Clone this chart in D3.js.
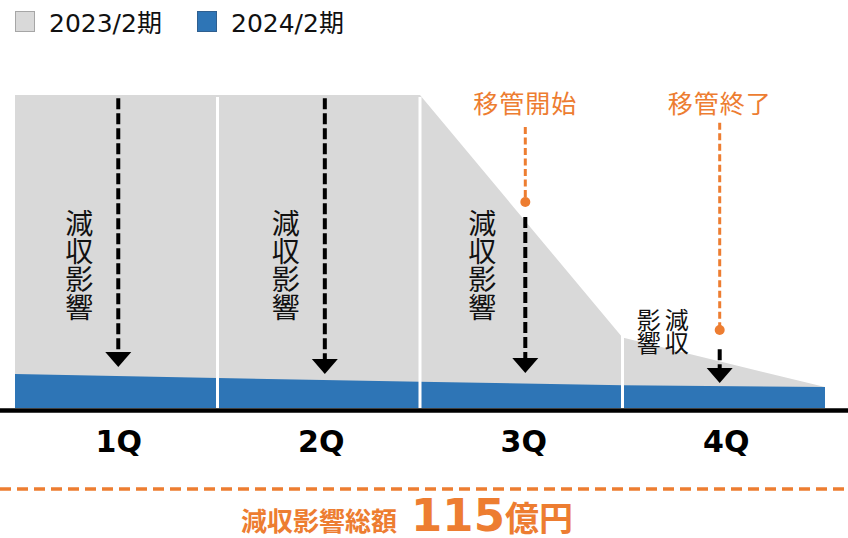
<!DOCTYPE html>
<html>
<head>
<meta charset="utf-8">
<script src="https://cdn.jsdelivr.net/npm/d3@7/dist/d3.min.js"></script>
<style>
  html, body { margin: 0; padding: 0; background: #fff; }
  svg { display: block; }
</style>
</head>
<body>
<svg id="chart" width="848" height="538"></svg>
<script>
// ---- data ----
const quarters = ["1Q", "2Q", "3Q", "4Q"];
const boundaries = [0, 1, 2, 3, 4];                 // quarter boundaries
const prevSeries = [100, 100, 100, 22.5, 6.7];      // 2023/2期
const currSeries = [10.9, 9.6, 8.4, 7.3, 6.7];      // 2024/2期
const seriesNames = ["2023/2期", "2024/2期"];
const arrowAt = [0.51, 1.53, 2.52, 3.48];
const arrowFrom = [99, 99, 61, 18.8];
const arrowTo = [13.1, 10.9, 11.2, 8.0];
const impactText = "減収影響";
const eventLabels = ["移管開始", "移管終了"];
const eventAt = [2.52, 3.48];
const eventTop = [89.8, 91.1];
const eventDot = [65.8, 24.9];
const totalLabel = "減収影響総額";
const totalValue = "115";
const totalUnit = "億円";

// ---- setup ----
const W = 848, H = 538;
const svg = d3.select("#chart");
const GRAY = "#D9D9D9", BLUE = "#2E75B6", ORANGE = "#ED7D31";
const CJK = "'Noto Sans CJK JP', sans-serif";
const LAT = "'DejaVu Sans', 'Noto Sans CJK JP', sans-serif";

const x = d3.scaleLinear().domain([0, 4]).range([15, 825]);
const y = d3.scaleLinear().domain([0, 100]).range([408, 95]);

const area = d3.area()
  .x((d, i) => x(boundaries[i]))
  .y0(y(0))
  .y1(d => y(d));

svg.append("path").attr("d", area(prevSeries)).attr("fill", GRAY);
svg.append("path").attr("d", area(currSeries)).attr("fill", BLUE);

// white separators between quarters
svg.selectAll("line.sep").data(boundaries.slice(1, 4)).enter()
  .append("line")
  .attr("x1", d => x(d)).attr("x2", d => x(d))
  .attr("y1", y(99.4)).attr("y2", y(0))
  .attr("stroke", "#fff").attr("stroke-width", 3);

// baseline axis
svg.append("line")
  .attr("x1", 0).attr("x2", W)
  .attr("y1", y(0) + 2.5).attr("y2", y(0) + 2.5)
  .attr("stroke", "#000").attr("stroke-width", 4.5);

// quarter labels
const xAxis = d3.axisBottom(x)
  .tickValues(quarters.map((q, i) => i + 0.5))
  .tickFormat((d, i) => quarters[i])
  .tickSize(0).tickPadding(0);
const ax = svg.append("g").attr("transform", `translate(0, ${y(0)})`).call(xAxis);
ax.select(".domain").remove();
ax.selectAll("text")
  .attr("y", 44).attr("dy", null).attr("dx", 2)
  .attr("font-family", LAT).attr("font-weight", "bold")
  .attr("font-size", 30).attr("fill", "#000");

// dashed arrows
arrowAt.forEach((a, i) => {
  const ax0 = x(a), yTop = y(arrowFrom[i]), yTip = y(arrowTo[i]);
  const headH = 15, headW = 13;
  svg.append("line")
    .attr("x1", ax0).attr("x2", ax0)
    .attr("y1", yTop).attr("y2", yTip - headH + 1)
    .attr("stroke", "#000").attr("stroke-width", 4)
    .attr("stroke-dasharray", "11,4");
  svg.append("path")
    .attr("d", `M${ax0 - headW},${yTip - headH} L${ax0 + headW},${yTip - headH} L${ax0},${yTip} Z`)
    .attr("fill", "#000");
});

// vertical labels
function vtext(cx, ytop, str, size, spacing) {
  svg.append("text")
    .attr("x", cx).attr("y", ytop)
    .attr("writing-mode", "vertical-rl")
    .style("writing-mode", "vertical-rl")
    .attr("text-orientation", "upright")
    .attr("letter-spacing", spacing)
    .attr("font-family", CJK).attr("font-size", size).attr("fill", "#111")
    .text(str);
}
const chars = Array.from(impactText);
[0, 1, 2].forEach(i => {
  const cx = x(arrowAt[i]) - (i === 2 ? 43 : 39);
  vtext(cx, 209, impactText, 28, 0);
});
// 4Q label in two columns (vertical-rl order)
{
  const base = x(arrowAt[3]);
  vtext(base - 43, 308, chars[0] + chars[1], 24, -1.5);
  vtext(base - 71, 308, chars[2] + chars[3], 24, -1.5);
}

// transfer event annotations
eventLabels.forEach((lab, i) => {
  const ex = x(eventAt[i]);
  svg.append("text")
    .attr("x", ex).attr("y", 113)
    .attr("text-anchor", "middle")
    .attr("font-family", CJK).attr("font-size", 25)
    .attr("letter-spacing", 1)
    .attr("fill", ORANGE).text(lab);
  svg.append("line")
    .attr("x1", ex).attr("x2", ex)
    .attr("y1", y(eventTop[i])).attr("y2", y(eventDot[i]))
    .attr("stroke", ORANGE).attr("stroke-width", 3)
    .attr("stroke-dasharray", "7,3.5");
  svg.append("circle")
    .attr("cx", ex).attr("cy", y(eventDot[i])).attr("r", 5)
    .attr("fill", ORANGE);
});

// legend
const legendX = [15, 197];
const legendColors = [GRAY, BLUE];
const legendStroke = ["#A6A6A6", "#2F5F8F"];
seriesNames.forEach((n, i) => {
  svg.append("rect")
    .attr("x", legendX[i] + 0.5).attr("y", 11.5)
    .attr("width", 19).attr("height", 20)
    .attr("fill", legendColors[i]).attr("stroke", legendStroke[i]).attr("stroke-width", 1);
  svg.append("text")
    .attr("x", legendX[i] + 34).attr("y", 32)
    .attr("font-family", LAT).attr("font-size", 25).attr("fill", "#111")
    .text(n);
});

// bottom total
svg.append("line")
  .attr("x1", 0).attr("x2", W).attr("y1", 489).attr("y2", 489)
  .attr("stroke", ORANGE).attr("stroke-width", 3.5)
  .attr("stroke-dasharray", "11,6");
const tot = svg.append("text")
  .attr("x", 407).attr("y", 531)
  .attr("text-anchor", "middle")
  .attr("fill", ORANGE).attr("font-weight", "bold");
tot.append("tspan").attr("font-family", CJK).attr("font-size", 26).text(totalLabel);
tot.append("tspan").attr("dx", 14).attr("font-family", LAT).attr("font-size", 45).text(totalValue);
tot.append("tspan").attr("font-family", CJK).attr("font-size", 34).text(totalUnit);
</script>
</body>
</html>
